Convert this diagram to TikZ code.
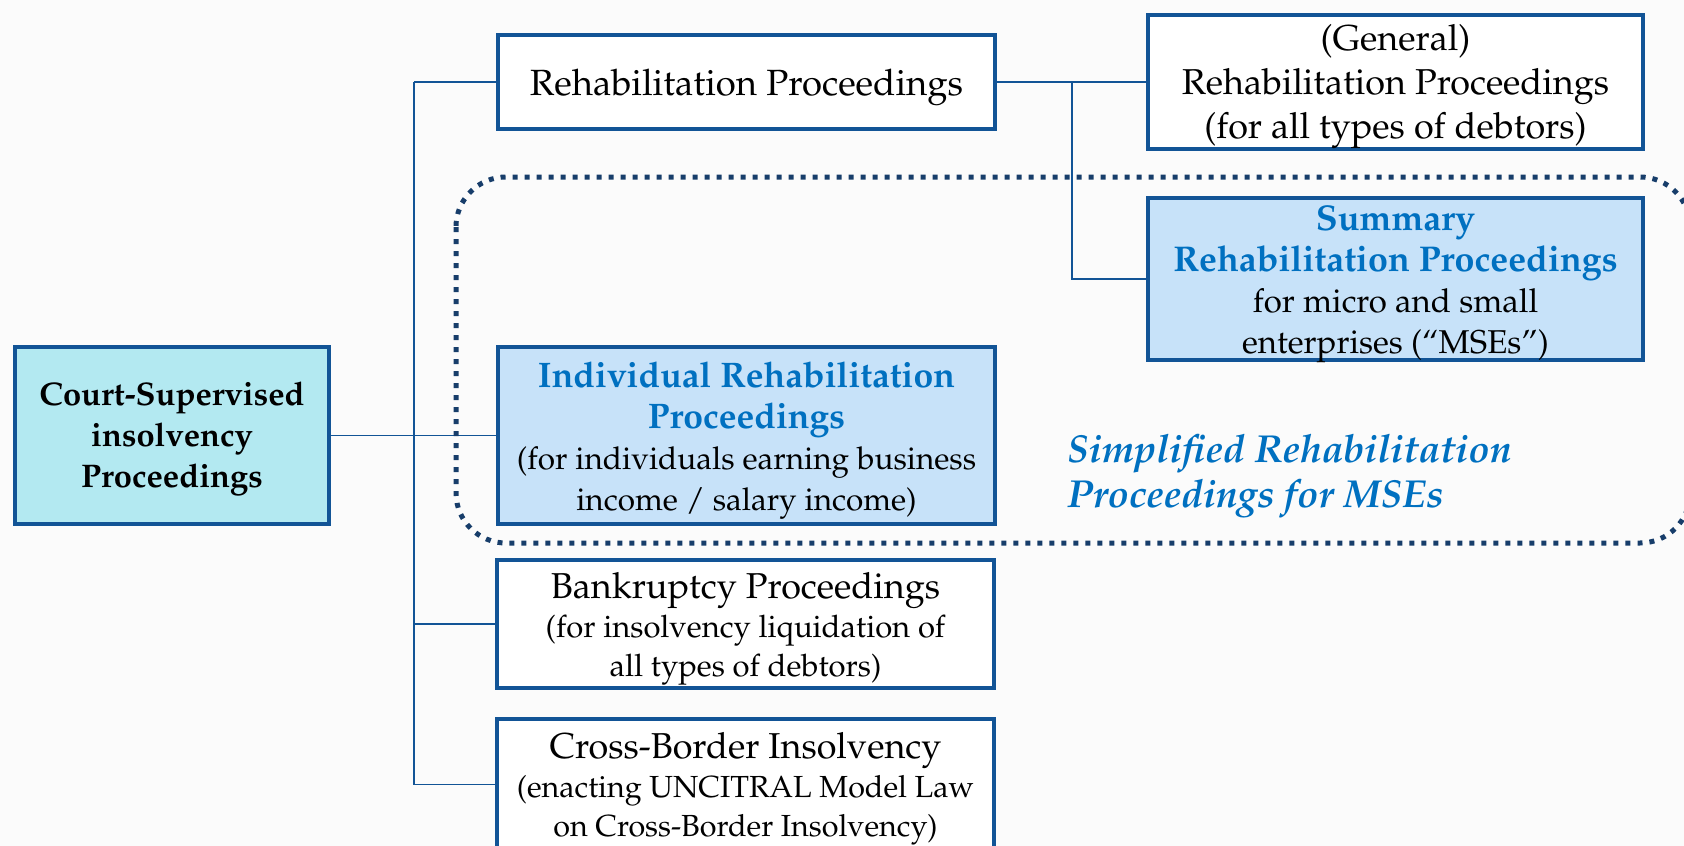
\documentclass[tikz,border=0pt]{standalone}
\usepackage[T1]{fontenc}
\renewcommand\rmdefault{ppl}
\definecolor{bord}{HTML}{125496}
\definecolor{navy}{HTML}{173D6A}
\definecolor{btext}{HTML}{0070C0}
\definecolor{cyanfill}{HTML}{B3E9F1}
\definecolor{bluefill}{HTML}{C7E2F9}
\definecolor{bg}{HTML}{FBFBFB}
\pgfdeclarelayer{back}
\pgfsetlayers{back,main}
\newcommand\fsz[2]{\fontsize{#1}{#2}\selectfont}
\newcommand\bl[2]{{\fsz{#1}{41}\color{btext}\bfseries #2}}
\begin{document}
\begin{tikzpicture}[x=1pt,y=-1pt,
  box/.style={draw=bord, line width=4pt, inner sep=0pt, fill=white},
  txt/.style={inner sep=0pt, align=center, yshift=-5pt, font={\fsz{31.5}{41}}},
  conn/.style={draw=bord, line width=1.6pt},
  dotbox/.style={draw=navy, line width=5pt, dash pattern=on 5pt off 7pt, rounded corners=50pt}]
\useasboundingbox (0,0) rectangle (1684,846);
% boxes
\node[box, minimum width=314pt, minimum height=177pt, fill=cyanfill] (court) at (172,435.5) {};
\node[box, minimum width=497pt, minimum height=94pt] (rehab) at (746.5,82) {};
\node[box, minimum width=495pt, minimum height=134pt] (general) at (1395.5,82) {};
\node[box, minimum width=495pt, minimum height=162pt, fill=bluefill] (summary) at (1395.5,279) {};
\node[box, minimum width=497pt, minimum height=177pt, fill=bluefill] (indiv) at (746.5,435.5) {};
\node[box, minimum width=497pt, minimum height=128pt] (bankr) at (745.5,624) {};
\node[box, minimum width=497pt, minimum height=131pt] (cross) at (745.5,784.5) {};
% trunk coordinates
\coordinate (ttop) at (414,82);
\coordinate (tbot) at (414,784.5);
\coordinate (rtop) at (1072,82);
\coordinate (rbot) at (1072,279);
\coordinate (dnw) at (456,177);
\coordinate (dse) at (1690,543);
% background, connectors and dotted group behind the boxes
\begin{pgfonlayer}{back}
\fill[bg] (0,0) rectangle (1684,846);
\path[conn] (ttop) -- (tbot);
\path[conn] (ttop) -- (rehab.west);
\path[conn] (court.east) -- (indiv.west);
\path[conn] (tbot) -- (cross.west);
\path[conn] (ttop |- bankr.west) -- (bankr.west);
\path[conn] (rehab.east) -- (general.west);
\path[conn] (rtop) -- (rbot) -- (summary.west);
\draw[dotbox] (dnw) rectangle (dse);
\end{pgfonlayer}
% texts
\node[txt, yshift=2pt, font={\fsz{32.7}{41}\bfseries}] (courtT) at (court.center) {Court-Supervised\\insolvency\\Proceedings};
\node[txt, font={\fsz{36.5}{44}}] (rehabT) at (rehab.center) {Rehabilitation\ Proceedings};
\node[txt, font={\fsz{36}{44}}] (generalT) at (general.center) {(General)\\Rehabilitation\ Proceedings\\(for all types of debtors)};
\node[txt, font={\fsz{33}{41}}] (summaryT) at (summary.center)
  {\bl{35.8}{Summary}\\\bl{35.8}{Rehabilitation Proceedings}\\for micro and small\\enterprises (``MSEs'')};
\node[txt] (indivT) at (indiv.center)
  {\bl{35.5}{Individual Rehabilitation}\\\bl{35.5}{Proceedings}\\(for individuals earning business\\income / salary income)};
\node[txt, font={\fsz{31}{39}}] (bankrT) at (bankr.center)
  {{\fsz{36}{40}Bankruptcy Proceedings}\\(for insolvency liquidation of\\all types of debtors)};
\node[txt, yshift=1pt, font={\fsz{30.5}{39}}] (crossT) at (cross.center)
  {{\fsz{36}{42}Cross-Border Insolvency}\\(enacting UNCITRAL Model Law\\on Cross-Border Insolvency)};
\node[font={\fsz{39}{45}\bfseries\itshape}, text=btext, align=left, anchor=west, inner sep=0pt] (simpl) at (1067,476)
  {Simplified Rehabilitation\\Proceedings for MSEs};
\end{tikzpicture}
\end{document}
